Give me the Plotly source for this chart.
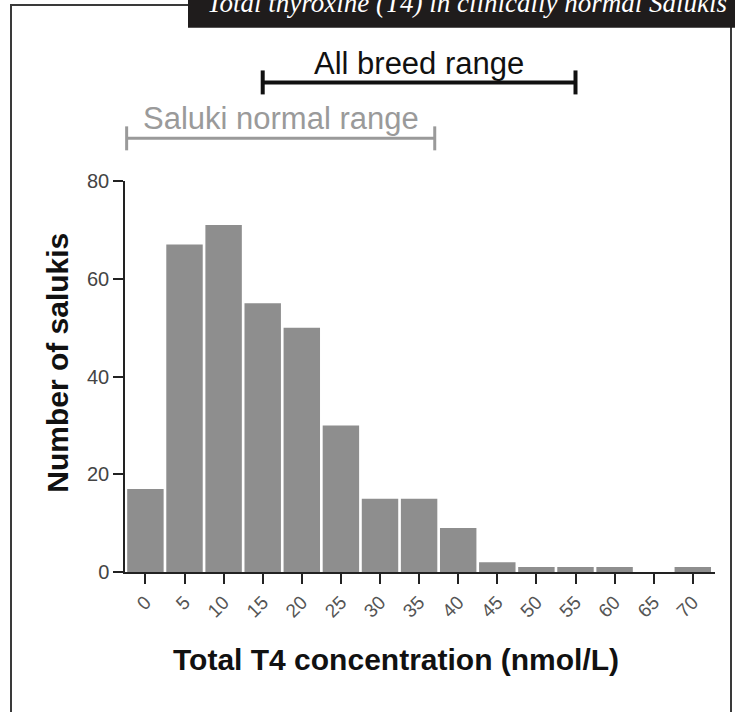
import plotly.graph_objects as go

# ---- data ----
t4_bins = [0, 5, 10, 15, 20, 25, 30, 35, 40, 45, 50, 55, 60, 65, 70]
tick_labels = [str(v) for v in t4_bins]
counts = [17, 67, 71, 55, 50, 30, 15, 15, 9, 2, 1, 1, 1, 0, 1]
y_ticks = [0, 20, 40, 60, 80]
breed_range = [15, 55]        # nmol/L, "All breed range"
saluki_range = [-2.4, 37]     # nmol/L, "Saluki normal range"

W, H = 735, 712
L, R, T, B = 125, 715, 181, 572.5


def px_x(p):
    return (p - L) / (R - L)


def px_y(p):
    return (B - p) / (B - T)


FONT = "Liberation Sans, Arial, sans-serif"

fig = go.Figure()
fig.add_trace(go.Bar(
    x=t4_bins, y=counts, width=4.66,
    marker=dict(color="#8e8e8e", line=dict(width=0)),
    hoverinfo="x+y",
))

shapes = []
annotations = []

# outer frame
shapes.append(dict(type="rect", xref="paper", yref="paper",
                   x0=px_x(11), x1=px_x(731), y0=px_y(4.7), y1=px_y(730),
                   line=dict(color="#3a3a3a", width=2), fillcolor="rgba(0,0,0,0)", layer="above"))
# black title box
shapes.append(dict(type="rect", xref="paper", yref="paper",
                   x0=px_x(188), x1=px_x(740), y0=px_y(-5), y1=px_y(27.5),
                   line=dict(width=0), fillcolor="#1f1c1c", layer="above"))
annotations.append(dict(
    text="<i>Total thyroxine (T4) in clinically normal Salukis</i>",
    xref="paper", yref="paper", x=px_x(467), y=px_y(3), xanchor="center", yanchor="middle",
    showarrow=False, font=dict(family="Liberation Serif, Times New Roman, serif", size=27, color="white")))


def range_bar(rng, ypx, cap, color, width):
    out = []
    out.append(dict(type="line", xref="x", yref="paper", x0=rng[0], x1=rng[1],
                    y0=px_y(ypx), y1=px_y(ypx), line=dict(color=color, width=width)))
    for v in rng:
        out.append(dict(type="line", xref="x", yref="paper", x0=v, x1=v,
                        y0=px_y(ypx - cap), y1=px_y(ypx + cap), line=dict(color=color, width=width)))
    return out


shapes += range_bar(breed_range, 82.3, 12, "#111111", 4)
shapes += range_bar(saluki_range, 138.3, 12, "#9a9a9a", 3)

annotations.append(dict(text="All breed range", xref="x", yref="paper",
                        x=sum(breed_range) / 2, y=px_y(63), xanchor="center", yanchor="middle",
                        showarrow=False, font=dict(family=FONT, size=31, color="#111111")))
annotations.append(dict(text="Saluki normal range", xref="x", yref="paper",
                        x=sum(saluki_range) / 2, y=px_y(118), xanchor="center", yanchor="middle",
                        showarrow=False, font=dict(family=FONT, size=31, color="#9a9a9a")))

# axis titles
annotations.append(dict(text="<b>Total T4 concentration (nmol/L)</b>", xref="paper", yref="paper",
                        x=px_x(396), y=px_y(660), xanchor="center", yanchor="middle",
                        showarrow=False, font=dict(family=FONT, size=30, color="#111111")))
annotations.append(dict(text="<b>Number of salukis</b>", xref="paper", yref="paper",
                        x=px_x(58), y=px_y(363), xanchor="center", yanchor="middle", textangle=-90,
                        showarrow=False, font=dict(family=FONT, size=30, color="#111111")))

fig.update_layout(
    width=W, height=H,
    margin=dict(l=L, r=W - R, t=T, b=H - B, pad=0),
    paper_bgcolor="white", plot_bgcolor="white",
    showlegend=False,
    shapes=shapes, annotations=annotations,
    xaxis=dict(range=[-2.61, 72.84], tickmode="array", tickvals=t4_bins, ticktext=tick_labels,
               tickangle=-45, ticks="outside", ticklen=10, tickwidth=1.5, tickcolor="#222",
               showline=True, linecolor="#222", linewidth=1.5, showgrid=False, zeroline=False,
               tickfont=dict(family=FONT, size=19, color="#555555"), fixedrange=True),
    yaxis=dict(range=[0, 80], tickmode="array", tickvals=y_ticks,
               ticks="outside", ticklen=10, tickwidth=1.5, tickcolor="#222",
               showline=True, linecolor="#222", linewidth=1.5, showgrid=False, zeroline=False,
               tickfont=dict(family=FONT, size=20, color="#444444"), fixedrange=True),
)

fig.write_html(
    "out.html",
    config={"displayModeBar": False},
    post_script="document.body.style.margin='0';document.body.style.overflow='hidden';",
)
